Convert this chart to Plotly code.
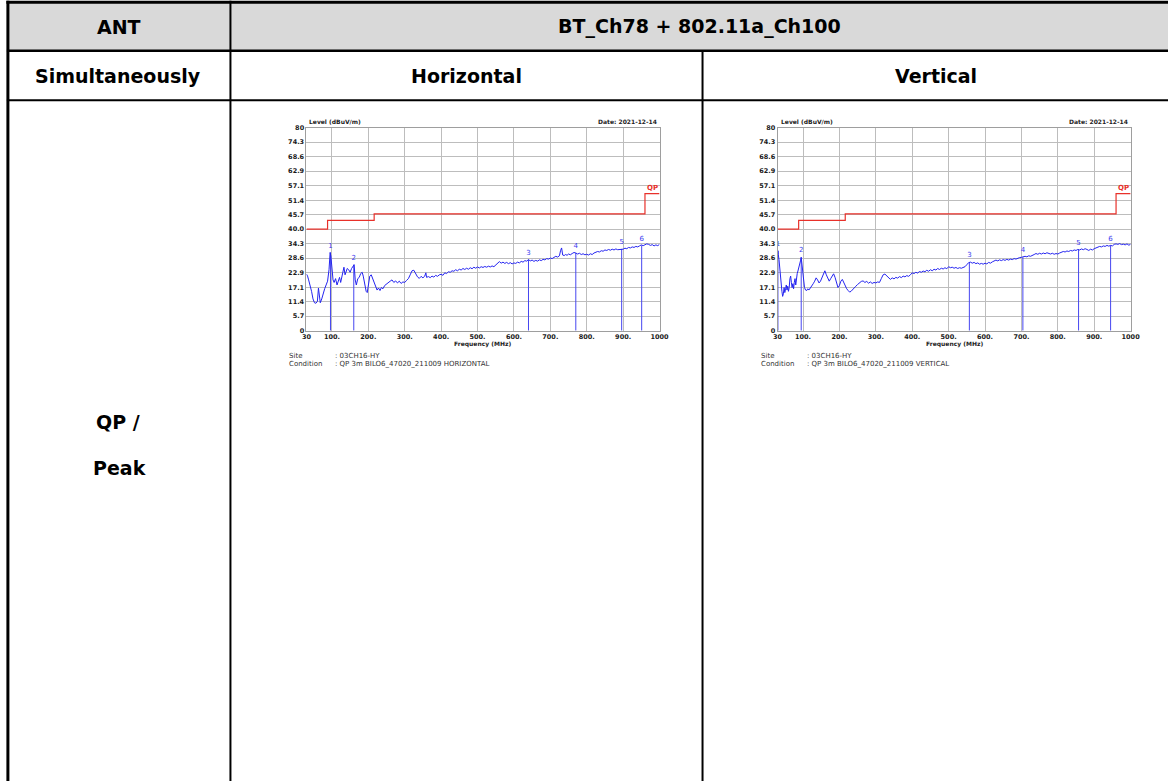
import plotly.graph_objects as go

# ---------------- data ----------------
h_freq = [30, 33, 36, 40, 44, 48, 52, 56, 60, 63, 65, 68, 72, 76, 80, 84, 88, 92, 95, 97, 100, 103, 106, 110, 114, 118, 121, 124, 127, 130,
          133, 136, 139, 142, 146, 150, 154, 158, 161, 164, 167, 171, 175, 179, 183, 186, 190, 194, 197, 200, 204, 208, 212, 216, 220, 224,
          228, 232, 236, 240, 245, 250, 255, 260, 265, 270, 275, 280, 285, 290, 295, 300, 305, 310, 315, 320, 325, 330, 335, 340, 345, 350,
          355, 358, 360, 365, 370, 375, 380, 385, 390, 395, 400, 405, 410, 415, 420, 425, 430, 435, 440, 445, 450, 455, 460, 465, 470, 475,
          480, 485, 490, 495, 500, 505, 510, 515, 520, 525, 530, 535, 540, 545, 550, 555, 560, 565, 570, 575, 580, 585, 590, 595, 600, 605,
          610, 615, 620, 625, 630, 635, 640, 645, 650, 655, 660, 665, 670, 675, 680, 685, 690, 695, 700, 705, 710, 715, 720, 725, 728, 731,
          734, 738, 742, 746, 750, 755, 760, 765, 770, 775, 780, 785, 790, 795, 800, 805, 810, 815, 820, 825, 830, 835, 840, 845, 850, 855,
          860, 865, 870, 875, 880, 885, 890, 895, 900, 905, 910, 915, 920, 925, 930, 935, 940, 945, 950, 955, 960, 965, 970, 975, 980, 985,
          990, 995, 1000]
h_level = [22.3, 21.5, 20.0, 18.2, 15.5, 12.5, 11.0, 10.8, 11.5, 16.8, 13.0, 11.0, 12.5, 15.0, 16.5, 18.0, 19.5, 24.0, 30.8, 29.5, 25.0,
           20.0, 19.0, 20.5, 18.0, 19.5, 21.0, 19.0, 21.5, 24.0, 25.0, 22.0, 23.5, 24.5, 24.0, 23.0, 24.5, 25.5, 26.0, 20.0, 18.0, 20.5,
           21.0, 22.5, 23.0, 21.5, 18.0, 15.5, 15.0, 18.5, 21.5, 22.0, 20.5, 19.0, 17.5, 16.0, 16.8, 15.8, 17.0, 16.5, 17.8, 18.5, 19.2,
           19.5, 20.0, 19.0, 19.6, 18.8, 19.5, 18.6, 19.2, 19.0, 19.8, 20.5, 22.0, 23.6, 23.8, 22.5, 21.2, 20.6, 21.4, 20.8, 21.5, 22.8,
           21.0, 21.3, 20.9, 21.5, 21.1, 21.8, 21.4, 22.0, 22.2, 21.8, 22.8, 22.5, 23.2, 23.0, 23.6, 23.4, 24.0, 23.6, 24.2, 23.9, 24.5,
           24.1, 24.6, 24.2, 24.8, 24.4, 25.0, 24.6, 25.1, 24.7, 25.2, 24.9, 25.3, 25.0, 25.4, 25.1, 25.5, 25.2, 25.9, 26.8, 27.2, 26.6,
           27.0, 26.5, 26.9, 26.4, 26.8, 26.3, 26.7, 26.5, 27.0, 26.7, 27.3, 27.0, 27.6, 27.4, 28.0, 27.5, 27.8, 27.3, 27.7, 27.4, 27.9,
           27.6, 28.1, 27.9, 28.4, 28.2, 28.6, 28.4, 28.9, 29.3, 29.0, 29.5, 31.5, 32.6, 29.8, 29.6, 30.0, 29.7, 30.2, 29.9, 30.4, 30.8,
           30.6, 30.2, 30.5, 30.0, 30.3, 29.9, 30.1, 29.8, 30.3, 30.0, 30.6, 30.8, 31.2, 31.0, 31.5, 31.3, 31.8, 31.6, 32.0, 31.7, 32.1,
           31.8, 32.2, 31.9, 32.0, 32.3, 32.1, 32.5, 32.3, 32.8, 32.6, 33.0, 32.8, 33.2, 33.0, 33.4, 33.8, 33.5, 33.9, 34.2, 34.0, 33.6,
           33.9, 33.4, 33.8, 33.5, 34.0]

v_freq = [30, 31, 32, 34, 36, 38, 40, 42, 44, 46, 48, 50, 52, 54, 56, 58, 60, 62, 64, 66, 68, 70, 72, 74, 76, 78, 80, 82, 84, 86, 88, 90,
          93, 95, 97, 99, 101, 104, 107, 110, 113, 116, 120, 124, 128, 132, 136, 140, 144, 148, 152, 156, 160, 164, 168, 172, 176, 180,
          184, 188, 192, 196, 200, 204, 208, 212, 216, 220, 224, 228, 232, 236, 240, 245, 250, 255, 260, 265, 270, 275, 280, 285, 290,
          295, 300, 305, 310, 315, 320, 325, 330, 335, 340, 345, 350, 355, 360, 365, 370, 375, 380, 385, 390, 395, 400, 405, 410, 415,
          420, 425, 430, 435, 440, 445, 450, 455, 460, 465, 470, 475, 480, 485, 490, 495, 500, 505, 510, 515, 520, 525, 530, 535, 540,
          545, 550, 555, 560, 565, 570, 575, 580, 585, 590, 595, 600, 605, 610, 615, 620, 625, 630, 635, 640, 645, 650, 655, 660, 665,
          670, 675, 680, 685, 690, 695, 700, 705, 710, 715, 720, 725, 730, 735, 740, 745, 750, 755, 760, 765, 770, 775, 780, 785, 790,
          795, 800, 805, 810, 815, 820, 825, 830, 835, 840, 845, 850, 855, 860, 865, 870, 875, 880, 885, 890, 895, 900, 905, 910, 915,
          920, 925, 930, 935, 940, 945, 950, 955, 960, 965, 970, 975, 980, 985, 990, 995, 1000]
v_level = [28.9, 31.5, 30.0, 28.0, 24.0, 20.0, 17.0, 15.5, 13.5, 14.5, 17.0, 15.0, 16.5, 18.0, 16.0, 17.5, 15.5, 17.0, 20.5, 21.5, 19.0,
           17.0, 18.5, 16.5, 19.0, 20.5, 18.0, 21.0, 22.5, 23.5, 24.5, 25.0, 27.5, 28.9, 26.0, 22.0, 19.0, 17.0, 16.0, 15.8, 16.5, 16.0,
           16.8, 17.5, 18.5, 19.5, 20.8, 20.0, 18.8, 19.5, 21.0, 22.5, 23.6, 22.0, 20.5, 19.5, 20.5, 21.5, 22.4, 21.0, 18.5, 17.0, 17.8,
           19.5, 20.2, 19.0, 17.5, 16.5, 15.8, 15.2, 15.5, 16.0, 16.8, 17.5, 18.2, 18.8, 19.4, 19.6, 19.0, 19.4, 18.7, 19.2, 18.6, 19.0,
           18.8, 19.2, 19.0, 20.5, 22.0, 22.3, 21.6, 21.0, 20.2, 20.8, 20.4, 21.0, 20.7, 21.3, 20.9, 21.5, 21.2, 21.7, 21.4, 22.0, 22.8,
           22.5, 23.0, 22.7, 23.3, 23.0, 23.5, 23.2, 23.8, 23.4, 24.0, 23.6, 24.2, 23.9, 24.5, 24.1, 24.6, 24.3, 24.8, 24.4, 25.2, 24.8,
           25.0, 24.6, 24.9, 24.5, 24.8, 24.6, 25.0, 25.2, 26.0, 26.8, 27.0, 26.6, 26.9, 26.4, 26.7, 26.2, 26.5, 26.2, 26.6, 26.3, 26.9,
           26.6, 27.1, 27.4, 27.8, 27.5, 27.9, 27.6, 28.0, 27.7, 28.1, 27.8, 28.2, 28.0, 28.4, 28.2, 28.6, 28.8, 28.9, 29.0, 29.3, 29.1,
           29.5, 29.3, 29.8, 30.0, 30.4, 30.1, 30.5, 30.2, 30.6, 30.3, 30.7, 30.4, 30.2, 30.5, 30.1, 30.4, 30.2, 30.6, 30.9, 31.2, 31.0,
           31.4, 31.2, 31.6, 31.4, 31.8, 31.6, 32.0, 31.8, 32.2, 31.9, 32.3, 32.0, 31.6, 32.1, 31.8, 32.3, 32.6, 32.9, 33.2, 33.0, 33.4,
           33.2, 33.6, 33.3, 33.6, 33.4, 34.0, 34.2, 34.0, 34.3, 33.9, 34.1, 33.8, 34.2, 33.7, 34.0]

h_mark_freq = [96, 160, 640, 770, 896, 951]
h_mark_level = [30.8, 26.0, 28.0, 30.6, 32.2, 33.6]
v_mark_freq = [31, 95, 557, 704, 857, 945]
v_mark_level = [31.5, 28.9, 27.0, 28.9, 32.0, 33.6]
mark_labels = ["1", "2", "3", "4", "5", "6"]

limit_freq = [30, 88, 216, 960, 1000]
limit_level = [40.0, 43.5, 46.0, 54.0, 54.0]

y_ticks = [0, 5.7, 11.4, 17.1, 22.9, 28.6, 34.3, 40.0, 45.7, 51.4, 57.1, 62.9, 68.6, 74.3, 80]
y_tick_text = ["0", "5.7", "11.4", "17.1", "22.9", "28.6", "34.3", "40.0", "45.7", "51.4", "57.1", "62.9", "68.6", "74.3", "80"]
x_ticks = [30, 100, 200, 300, 400, 500, 600, 700, 800, 900, 1000]
x_tick_text = ["30", "100.", "200.", "300.", "400.", "500.", "600.", "700.", "800.", "900.", "1000"]

header_ant = "ANT"
header_mode = "BT_Ch78 + 802.11a_Ch100"
row2 = ["Simultaneously", "Horizontal", "Vertical"]
row3_label = ["QP /", "Peak"]
site = ": 03CH16-HY"
cond_h = ": QP 3m BILO6_47020_211009 HORIZONTAL"
cond_v = ": QP 3m BILO6_47020_211009 VERTICAL"
date_text = "Date: 2021-12-14"

# ---------------- geometry (target pixel positions, compensated for page rendering) ----------------
WF, HF = 1180, 786
AX, BX = 0.9871, 4.6
AY, BY = 0.990, 3.3

def px(x):
    return ((x - BX) / AX) / WF

def py(y):
    return 1 - ((y - BY) / AY) / HF

fig = go.Figure()

charts = [
    dict(xa="x", ya="y", freq=h_freq, level=h_level, mf=h_mark_freq, ml=h_mark_level, left=306, right=659, cond=cond_h),
    dict(xa="x2", ya="y2", freq=v_freq, level=v_level, mf=v_mark_freq, ml=v_mark_level, left=777, right=1130, cond=cond_v),
]
top, bottom = 127, 330

for c in charts:
    fig.add_trace(go.Scatter(x=limit_freq, y=limit_level, mode="lines", line=dict(color="#E8302A", width=1.2, shape="hv"),
                             xaxis=c["xa"], yaxis=c["ya"], hoverinfo="skip", showlegend=False))
    mx, my = [], []
    for f, l in zip(c["mf"], c["ml"]):
        mx += [f, f, None]
        my += [0, l, None]
    fig.add_trace(go.Scatter(x=mx, y=my, mode="lines", line=dict(color="#4646F0", width=1),
                             xaxis=c["xa"], yaxis=c["ya"], hoverinfo="skip", showlegend=False))
    fig.add_trace(go.Scatter(x=c["freq"], y=c["level"], mode="lines", line=dict(color="#2424F0", width=1),
                             xaxis=c["xa"], yaxis=c["ya"], showlegend=False))
    fig.add_trace(go.Scatter(x=c["mf"], y=[l + 2.6 for l in c["ml"]], mode="text", text=mark_labels,
                             textfont=dict(family="DejaVu Sans", size=7, color="#3B3BF0"),
                             xaxis=c["xa"], yaxis=c["ya"], hoverinfo="skip", showlegend=False))
    fig.add_annotation(x=1000, y=limit_level[-1], xref=c["xa"], yref=c["ya"], text="<b>QP</b>", showarrow=False,
                       xanchor="right", yanchor="bottom", font=dict(family="DejaVu Sans", size=7, color="#E8302A"))
    fig.add_annotation(x=px(c["left"] + 1), y=py(top - 1), xref="paper", yref="paper", text="<b>Level (dBuV/m)</b>",
                       showarrow=False, xanchor="left", yanchor="bottom", font=dict(family="DejaVu Sans", size=6, color="#222"))
    fig.add_annotation(x=px(c["right"] - 1), y=py(top - 1), xref="paper", yref="paper", text="<b>" + date_text + "</b>",
                       showarrow=False, xanchor="right", yanchor="bottom", font=dict(family="DejaVu Sans", size=6, color="#222"))
    fig.add_annotation(x=px((c["left"] + c["right"]) / 2), y=py(343), xref="paper", yref="paper", text="<b>Frequency (MHz)</b>",
                       showarrow=False, xanchor="center", yanchor="middle", font=dict(family="DejaVu Sans", size=6, color="#222"))
    for lbl, xo, yy in [("Site", -19, 355), (site, 27, 355), ("Condition", -19, 363), (c["cond"], 27, 363)]:
        fig.add_annotation(x=px(c["left"] + xo), y=py(yy), xref="paper", yref="paper", text=lbl,
                           showarrow=False, xanchor="left", yanchor="middle", font=dict(family="DejaVu Sans", size=7, color="#333"))

axis_common = dict(showgrid=True, gridcolor="#BDBDBD", gridwidth=1, showline=True, linecolor="#9E9E9E", linewidth=1,
                   mirror=True, zeroline=False, ticks="", tickfont=dict(family="DejaVu Sans", size=6.5, color="#1a1a1a", weight="bold"))

fig.update_layout(
    width=WF, height=HF, margin=dict(l=0, r=0, t=0, b=0), paper_bgcolor="white", plot_bgcolor="white",
    showlegend=False,
    xaxis=dict(domain=[px(306), px(659)], range=[30, 1000], tickvals=x_ticks, ticktext=x_tick_text, anchor="y",
               ticklabelstandoff=0, **axis_common),
    yaxis=dict(domain=[py(bottom), py(top)], range=[0, 80], tickvals=y_ticks, ticktext=y_tick_text, anchor="x", **axis_common),
    xaxis2=dict(domain=[px(777), px(1130)], range=[30, 1000], tickvals=x_ticks, ticktext=x_tick_text, anchor="y2",
                ticklabelstandoff=0, **axis_common),
    yaxis2=dict(domain=[py(bottom), py(top)], range=[0, 80], tickvals=y_ticks, ticktext=y_tick_text, anchor="x2", **axis_common),
)

# ---------------- table ----------------
shapes = []
shapes.append(dict(type="rect", xref="paper", yref="paper", x0=px(8), x1=1, y0=py(50), y1=py(2),
                   fillcolor="#D9D9D9", line=dict(width=0), layer="below"))
def hline(y, x0, x1, w):
    shapes.append(dict(type="line", xref="paper", yref="paper", x0=px(x0), x1=x1, y0=py(y), y1=py(y),
                       line=dict(color="black", width=w)))
def vline(x, y0, w):
    shapes.append(dict(type="line", xref="paper", yref="paper", x0=px(x), x1=px(x), y0=py(y0), y1=0,
                       line=dict(color="black", width=w)))
hline(1.5, 6, 1, 3)
hline(50, 6.5, 1, 2.5)
hline(99.5, 6.5, 1, 2)
vline(7.5, 0, 3)
vline(230, 0, 2)
vline(702, 50, 2)
fig.update_layout(shapes=shapes)

hdr_font = dict(family="DejaVu Sans", size=19, color="black", weight="bold")
def cell_text(text, x, y):
    fig.add_annotation(x=px(x), y=py(y), xref="paper", yref="paper", text=text, showarrow=False,
                       xanchor="center", yanchor="middle", font=hdr_font)
cell_text(header_ant, 119, 26)
cell_text(header_mode, 699, 26)
cell_text(row2[0], 118, 75)
cell_text(row2[1], 466, 75)
cell_text(row2[2], 935, 75)
cell_text(row3_label[0], 118, 421)
cell_text(row3_label[1], 119, 467)

fig.write_html("out.html", config={"displayModeBar": False},
               post_script="document.body.style.margin='0';document.body.style.padding='0';document.body.style.overflow='hidden';")
